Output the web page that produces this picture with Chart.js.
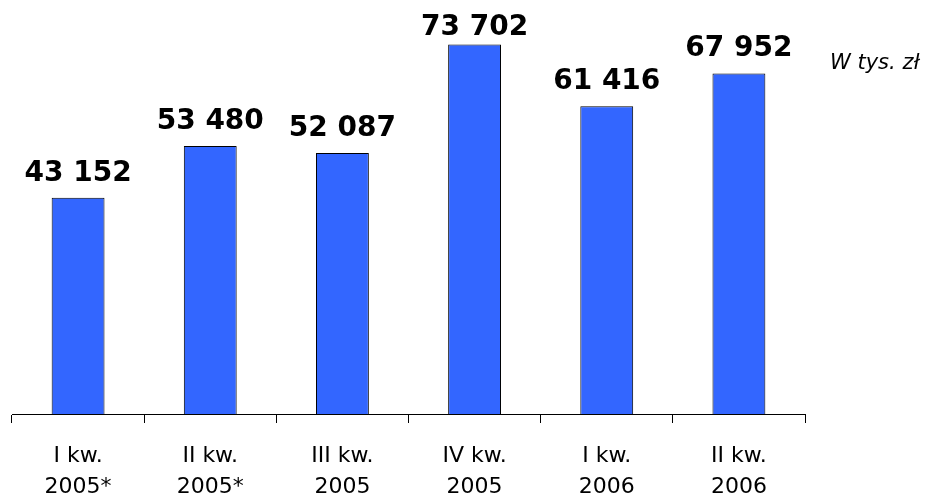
<!DOCTYPE html>
<html lang="pl">
<head>
  <meta charset="UTF-8">
  <title>W tys. zł</title>
  <script src="https://cdn.jsdelivr.net/npm/chart.js"></script>
  <style>
    body { margin: 0; background: #fff; }
  </style>
</head>
<body>
  <canvas id="chart" width="937" height="500"></canvas>

  <script>
    const quarters = [['I kw.', '2005*'], ['II kw.', '2005*'], ['III kw.', '2005'], ['IV kw.', '2005'], ['I kw.', '2006'], ['II kw.', '2006']];
    const values = [43152, 53480, 52087, 73702, 61416, 67952];
    const unitLabel = 'W tys. zł';

    function fmt(v) {
      return String(v).replace(/\B(?=(\d{3})+(?!\d))/g, ' ');
    }

    // etykiety wartości nad słupkami + jednostka
    const labelsPlugin = {
      id: 'valueLabels',
      afterDatasetsDraw(chart) {
        const ctx = chart.ctx;
        const meta = chart.getDatasetMeta(0);
        ctx.save();
        ctx.fillStyle = '#000';
        ctx.textAlign = 'center';
        ctx.textBaseline = 'alphabetic';
        ctx.font = 'bold 28px "DejaVu Sans"';
        meta.data.forEach((bar, i) => {
          const y = Math.max(bar.y - 17, 35);
          ctx.fillText(fmt(values[i]), bar.x, y);
        });
        ctx.font = 'italic 21px "DejaVu Sans"';
        ctx.textAlign = 'left';
        ctx.fillText(unitLabel, 830, 69);
        ctx.restore();
      }
    };

    const ctx = document.getElementById('chart').getContext('2d');
    new Chart(ctx, {
      type: 'bar',
      data: {
        labels: quarters,
        datasets: [{
          data: values,
          backgroundColor: '#3366FF',
          borderColor: '#000',
          borderWidth: 1,
          categoryPercentage: 1,
          barPercentage: 0.4
        }]
      },
      options: {
        responsive: false,
        animation: false,
        layout: { padding: { left: 12, right: 132, top: 13, bottom: 0 } },
        plugins: {
          legend: { display: false },
          tooltip: { enabled: false }
        },
        scales: {
          y: {
            display: false,
            min: 0,
            max: 80000
          },
          x: {
            afterFit(scale) { scale.height = 86; },
            grid: {
              drawOnChartArea: false,
              color: '#000',
              tickLength: 9,
              lineWidth: 1
            },
            border: { display: true, color: '#000', width: 1 },
            ticks: {
              color: '#000',
              padding: 18,
              maxRotation: 0,
              font: { family: '"DejaVu Sans"', size: 22, lineHeight: 1.4 }
            }
          }
        }
      },
      plugins: [labelsPlugin]
    });
  </script>
</body>
</html>
